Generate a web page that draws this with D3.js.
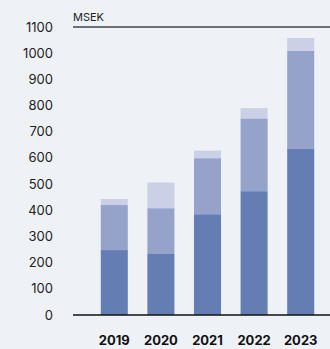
<!DOCTYPE html>
<html><head><meta charset="utf-8">
<script src="https://cdn.jsdelivr.net/npm/d3@7"></script>
<style>html,body{margin:0;padding:0;background:#eef1f6;}svg{display:block;}</style>
</head><body><svg id="c" width="330" height="349"></svg>
<script>
const years = ["2019","2020","2021","2022","2023"];
const seriesA = [248, 233, 385, 473, 634];
const seriesB = [172, 175, 214, 278, 375];
const seriesC = [23, 98, 29, 39, 49];
const yTicks = [0,100,200,300,400,500,600,700,800,900,1000,1100];
const unitLabel = "MSEK";
const colors = ["#647eb4", "#95a3cb", "#cbd0e6"];

const svg = d3.select("#c");
const x = d3.scaleBand().domain(years).range([91, 324]).paddingInner(0.42).paddingOuter(0.21);
const y = d3.scaleLinear().domain([0, 1100]).range([315, 27]);

const data = years.map((yr, i) => ({year: yr, a: seriesA[i], b: seriesB[i], c: seriesC[i]}));
const stack = d3.stack().keys(["a","b","c"])(data);

svg.append("g").selectAll("g").data(stack).join("g")
  .attr("fill", (d,i) => colors[i])
  .selectAll("rect").data(d => d).join("rect")
  .attr("x", d => x(d.data.year))
  .attr("width", x.bandwidth())
  .attr("y", d => y(d[1]))
  .attr("height", d => y(d[0]) - y(d[1]));

const font = "Inter, 'Noto Sans', sans-serif";
svg.append("g").selectAll("text").data(yTicks).join("text")
  .attr("x", 53).attr("y", d => y(d)).attr("dy", "0.35em")
  .attr("text-anchor", "end").attr("font-family", font).attr("font-size", 13)
  .attr("fill", "#222").text(d => d);

svg.append("line").attr("x1", 73).attr("x2", 330).attr("y1", y(0)).attr("y2", y(0))
  .attr("stroke", "#111").attr("stroke-width", 1.5);
svg.append("line").attr("x1", 73).attr("x2", 330).attr("y1", y(1100)).attr("y2", y(1100))
  .attr("stroke", "#444").attr("stroke-width", 1.5);
svg.append("text").attr("x", 73).attr("y", 21).attr("font-family", font).attr("font-size", 11)
  .attr("fill", "#222").text(unitLabel);

svg.append("g").selectAll("text").data(years).join("text")
  .attr("x", d => x(d) + x.bandwidth()/2).attr("y", 340).attr("dy", "0.35em")
  .attr("text-anchor", "middle").attr("font-family", font).attr("font-size", 13)
  .attr("font-weight", 700).attr("fill", "#111").text(d => d);
</script></body></html>
